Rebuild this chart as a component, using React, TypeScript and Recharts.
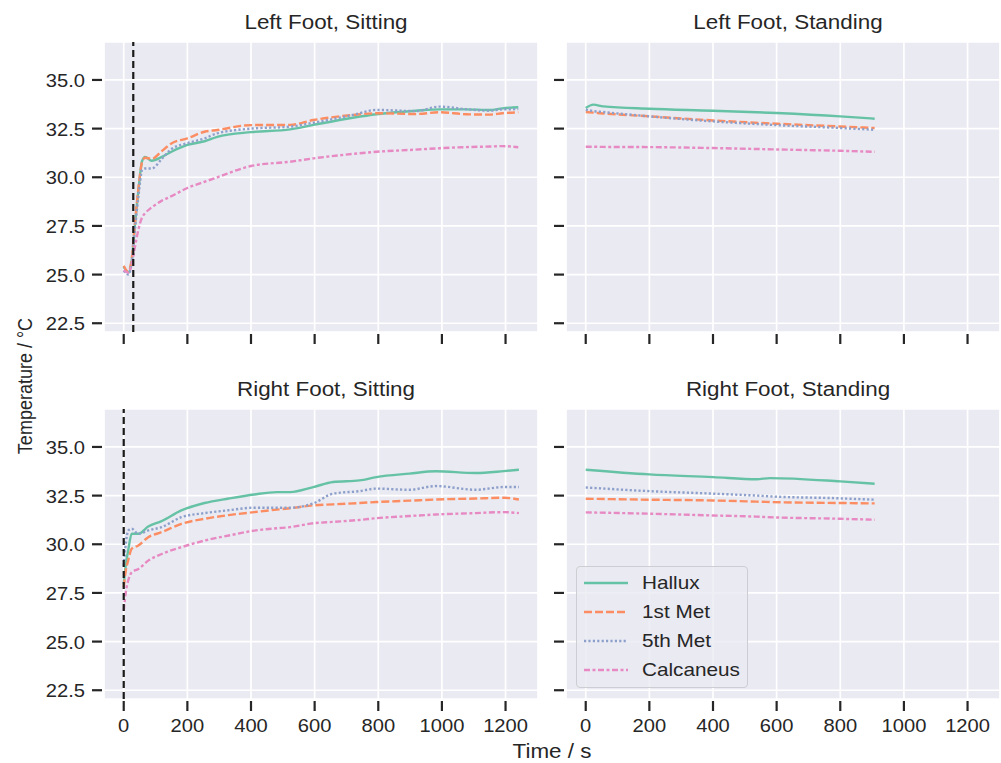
import React from 'react';
import { LineChart, Line, XAxis, YAxis, CartesianGrid, ReferenceLine } from 'recharts';

// series styling (seaborn Set2 + default dash cycle)
const seriesKeys = ['hallux', 'met1', 'met5', 'calc'];
const seriesNames = ['Hallux', '1st Met', '5th Met', 'Calcaneus'];
const seriesColors = ['#66c2a5', '#fc8d62', '#8da0cb', '#e78ac3'];
const seriesDashes = [undefined, '8 3', '2.2 2.2', '6 2.5 3 2.5'];

const timeTicks = [0, 200, 400, 600, 800, 1000, 1200];
const tempTicks = [22.5, 25, 27.5, 30, 32.5, 35];

// Left foot, sitting
const lsTime = [0, 14, 25, 35, 46, 58, 67, 88, 120, 150, 200, 254, 294, 400, 523, 596, 720, 794, 918, 992, 1075, 1150, 1190, 1240];
const lsHallux = [25.4, 25.1, 25.7, 27.5, 29.3, 30.85, 31.05, 30.85, 31.05, 31.31, 31.66, 31.85, 32.08, 32.32, 32.46, 32.69, 33.06, 33.24, 33.42, 33.49, 33.49, 33.46, 33.54, 33.6];
const lsMet1 = [25.45, 25.15, 25.8, 27.6, 29.4, 30.8, 31.0, 30.95, 31.35, 31.74, 32.0, 32.34, 32.43, 32.68, 32.69, 32.94, 33.2, 33.29, 33.25, 33.34, 33.24, 33.22, 33.29, 33.34];
const lsMet5 = [25.2, 25.0, 25.6, 27.3, 29.0, 30.37, 30.45, 30.45, 30.95, 31.45, 31.75, 32.0, 32.26, 32.5, 32.6, 32.8, 33.2, 33.46, 33.4, 33.63, 33.5, 33.42, 33.49, 33.5];
const lsCalc = [25.23, 25.1, 25.5, 26.4, 27.3, 27.95, 28.15, 28.45, 28.8, 29.03, 29.45, 29.77, 30.0, 30.58, 30.8, 30.97, 31.2, 31.31, 31.42, 31.49, 31.55, 31.58, 31.6, 31.54];

// Right foot, sitting
const rsTime = [0, 7, 14, 25, 46, 77, 119, 181, 254, 330, 410, 481, 523, 596, 658, 741, 794, 898, 981, 1106, 1195, 1242];
const rsHallux = [27.96, 29.0, 29.68, 30.54, 30.54, 30.91, 31.19, 31.74, 32.12, 32.35, 32.56, 32.68, 32.68, 32.94, 33.2, 33.28, 33.45, 33.63, 33.75, 33.66, 33.76, 33.83];
const rsMet1 = [27.79, 28.7, 29.16, 29.77, 29.94, 30.36, 30.62, 31.05, 31.31, 31.5, 31.65, 31.78, 31.85, 32.0, 32.05, 32.12, 32.17, 32.24, 32.3, 32.35, 32.39, 32.3];
const rsMet5 = [28.9, 30.1, 30.7, 30.8, 30.54, 30.71, 30.88, 31.39, 31.6, 31.75, 31.88, 31.88, 31.88, 32.1, 32.6, 32.73, 32.86, 32.8, 32.99, 32.8, 32.94, 32.94];
const rsCalc = [26.59, 27.6, 28.13, 28.56, 28.73, 29.16, 29.5, 29.85, 30.19, 30.45, 30.7, 30.82, 30.88, 31.08, 31.15, 31.25, 31.34, 31.45, 31.53, 31.6, 31.65, 31.6];

// Left foot, standing
const lstTime = [0, 24, 55, 200, 400, 600, 800, 908];
const lstHallux = [33.56, 33.73, 33.64, 33.52, 33.42, 33.3, 33.13, 33.01];
const lstMet1 = [33.35, 33.32, 33.28, 33.13, 32.92, 32.75, 32.61, 32.53];
const lstMet5 = [33.47, 33.4, 33.35, 33.13, 32.87, 32.68, 32.53, 32.44];
const lstCalc = [31.57, 31.57, 31.56, 31.55, 31.5, 31.43, 31.36, 31.31];

// Right foot, standing
const rstTime = [0, 200, 400, 537, 579, 800, 908];
const rstHallux = [33.83, 33.59, 33.45, 33.34, 33.4, 33.23, 33.11];
const rstMet1 = [32.34, 32.29, 32.25, 32.19, 32.17, 32.12, 32.1];
const rstMet5 = [32.92, 32.73, 32.6, 32.5, 32.46, 32.36, 32.29];
const rstCalc = [31.64, 31.57, 31.48, 31.42, 31.39, 31.31, 31.26];

const buildRows = (time: number[], h: number[], m1: number[], m5: number[], c: number[]) =>
  time.map((t, i) => ({ t, hallux: h[i], met1: m1[i], met5: m5[i], calc: c[i] }));

const FONT = '"Liberation Sans", Arial, sans-serif';
const TEXT = '#262626';
const STRETCH = 1.12; // reference text is a bit wider than it is tall
const PLOT_W = 434;
const PLOT_H = 290;
const Y_W = 104;
const TOP_M = 42;
const X_H = 45;

const XTick = (props: any) => {
  const { x, y, payload, show } = props;
  return (
    <g>
      <line x1={x} x2={x} y1={y + 2} y2={y + 12} stroke={TEXT} strokeWidth={2.2} />
      {show && (
        <text
          transform={`translate(${x} ${y + 33}) scale(${STRETCH} 1)`}
          textAnchor="middle"
          fill={TEXT}
          fontSize={18}
          fontFamily={FONT}
        >
          {payload.value}
        </text>
      )}
    </g>
  );
};

const YTick = (props: any) => {
  const { x, y, payload, show } = props;
  return (
    <g>
      <line x1={x - 12} x2={x - 2} y1={y} y2={y} stroke={TEXT} strokeWidth={2.2} />
      {show && (
        <text
          transform={`translate(${x - 19} ${y + 7}) scale(${STRETCH} 1)`}
          textAnchor="end"
          fill={TEXT}
          fontSize={18}
          fontFamily={FONT}
        >
          {Number(payload.value).toFixed(1)}
        </text>
      )}
    </g>
  );
};

interface PanelProps {
  plotLeft: number;
  plotTop: number;
  title: string;
  rows: any[];
  showX: boolean;
  showY: boolean;
  refX?: number;
}

const Panel = ({ plotLeft, plotTop, title, rows, showX, showY, refX }: PanelProps) => (
  <div style={{ position: 'absolute', left: plotLeft - Y_W, top: plotTop - TOP_M }}>
    <div
      style={{
        position: 'absolute',
        left: Y_W + 5,
        width: PLOT_W,
        top: 10,
        textAlign: 'center',
        fontSize: 20,
        fontFamily: FONT,
        color: TEXT,
        lineHeight: '24px',
        transform: `scaleX(${STRETCH})`,
      }}
    >
      {title}
    </div>
    <LineChart
      width={Y_W + PLOT_W + 2}
      height={TOP_M + PLOT_H + X_H}
      data={rows}
      margin={{ top: TOP_M, right: 2, left: 0, bottom: 0 }}
    >
      <CartesianGrid fill="#eaeaf2" stroke="#ffffff" strokeWidth={1.7} />
      <XAxis
        dataKey="t"
        type="number"
        domain={[-62, 1302]}
        ticks={timeTicks}
        allowDataOverflow
        height={X_H}
        axisLine={false}
        tickLine={false}
        tickSize={0}
        tickMargin={0}
        interval={0}
        tick={(p: any) => <XTick {...p} show={showX} />}
      />
      <YAxis
        type="number"
        domain={[22.05, 36.95]}
        ticks={tempTicks}
        allowDataOverflow
        width={Y_W}
        axisLine={false}
        tickLine={false}
        tickSize={0}
        tickMargin={0}
        interval={0}
        tick={(p: any) => <YTick {...p} show={showY} />}
      />
      {seriesKeys.map((k, i) => (
        <Line
          key={k}
          dataKey={k}
          name={seriesNames[i]}
          type="monotone"
          stroke={seriesColors[i]}
          strokeWidth={2.4}
          strokeDasharray={seriesDashes[i]}
          dot={false}
          activeDot={false}
          isAnimationActive={false}
        />
      ))}
      {refX !== undefined && (
        <ReferenceLine x={refX} stroke="#1a1a1a" strokeWidth={2.2} strokeDasharray="7 4" />
      )}
    </LineChart>
  </div>
);

const LegendBox = () => (
  <div
    style={{
      position: 'absolute',
      left: 576,
      top: 566,
      width: 172,
      height: 122,
      background: 'rgba(234,234,242,0.8)',
      border: '1px solid #cdcdd3',
      borderRadius: 4,
      boxSizing: 'border-box',
    }}
  >
    {seriesNames.map((n, i) => (
      <div key={n} style={{ position: 'absolute', left: 6, top: 4 + i * 29, height: 24, display: 'flex', alignItems: 'center' }}>
        <svg width={46} height={10}>
          <line x1={1} x2={45} y1={5} y2={5} stroke={seriesColors[i]} strokeWidth={2.4} strokeDasharray={seriesDashes[i]} />
        </svg>
        <span
          style={{
            marginLeft: 13,
            fontSize: 18.5,
            fontFamily: FONT,
            color: TEXT,
            transform: `scaleX(${STRETCH})`,
            transformOrigin: 'left center',
            display: 'inline-block',
            whiteSpace: 'nowrap',
          }}
        >
          {n}
        </span>
      </div>
    ))}
  </div>
);

export default function App() {
  return (
    <div style={{ position: 'absolute', left: 0, top: 0, width: 1001, height: 763, background: '#ffffff', overflow: 'hidden' }}>
      <Panel plotLeft={104} plotTop={42} title="Left Foot, Sitting" rows={buildRows(lsTime, lsHallux, lsMet1, lsMet5, lsCalc)} showX={false} showY refX={30} />
      <Panel plotLeft={566} plotTop={42} title="Left Foot, Standing" rows={buildRows(lstTime, lstHallux, lstMet1, lstMet5, lstCalc)} showX={false} showY={false} />
      <Panel plotLeft={104} plotTop={409} title="Right Foot, Sitting" rows={buildRows(rsTime, rsHallux, rsMet1, rsMet5, rsCalc)} showX showY refX={0} />
      <Panel plotLeft={566} plotTop={409} title="Right Foot, Standing" rows={buildRows(rstTime, rstHallux, rstMet1, rstMet5, rstCalc)} showX showY={false} />
      <LegendBox />
      <div
        style={{
          position: 'absolute',
          left: 26,
          top: 386,
          transform: `translate(-50%, -50%) rotate(-90deg) scaleY(${STRETCH})`,
          whiteSpace: 'nowrap',
          fontSize: 18,
          fontFamily: FONT,
          color: TEXT,
        }}
      >
        Temperature / °C
      </div>
      <div
        style={{
          position: 'absolute',
          left: 552,
          top: 751,
          transform: `translate(-50%, -50%) scaleX(${STRETCH})`,
          whiteSpace: 'nowrap',
          fontSize: 20,
          fontFamily: FONT,
          color: TEXT,
        }}
      >
        Time / s
      </div>
    </div>
  );
}
